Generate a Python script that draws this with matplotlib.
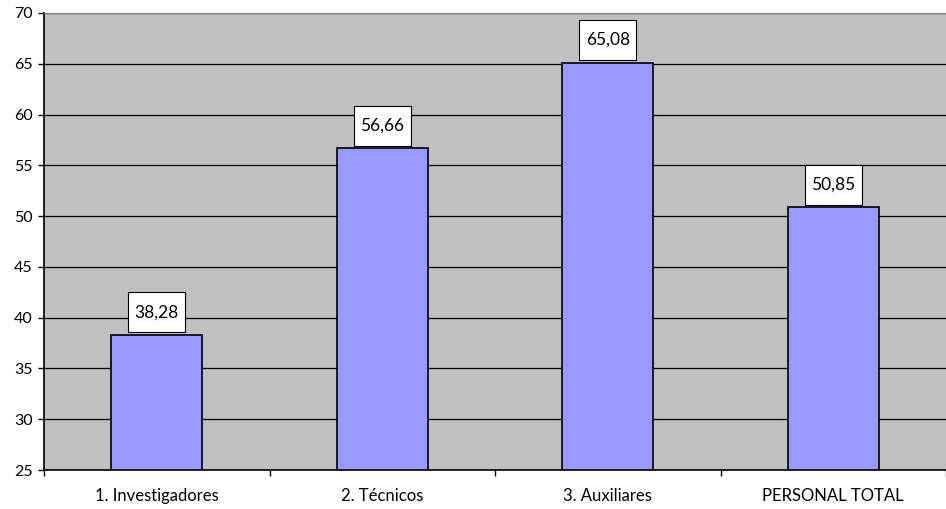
import numpy as np
import matplotlib.pyplot as plt
from matplotlib.path import Path

categories = ['1. Investigadores', '2. Técnicos', '3. Auxiliares', 'PERSONAL TOTAL']
values = [38.28, 56.66, 65.08, 50.85]
value_labels = ['38,28', '56,66', '65,08', '50,85']
y_ticks = [25, 30, 35, 40, 45, 50, 55, 60, 65, 70]

plt.rcParams['font.family'] = ['Lato', 'DejaVu Sans']


def label_box(x0, y0, width, height, mutation_size):
    # tall box with little side padding, like the Excel data labels
    px = mutation_size * 0.38
    py = (40 - height) / 2
    x0, x1 = x0 - px, x0 + width + px
    y0, y1 = y0 - py, y0 + height + py
    return Path([(x0, y0), (x1, y0), (x1, y1), (x0, y1), (x0, y0)], closed=True)


fig = plt.figure(figsize=(9.46, 5.09), dpi=100)
ax = fig.add_axes([44 / 946, 39 / 509, 902 / 946, 457 / 509])
ax.set_facecolor('#C0C0C0')

x = np.arange(len(categories))
ax.bar(x, [v - 25 for v in values], bottom=25, width=0.405, color='#9999FF',
       edgecolor='black', linewidth=1.2, zorder=3)

for xi, v, lab in zip(x, values, value_labels):
    ax.annotate(lab, (xi, v), xytext=(0, 16.5), textcoords='offset points',
                ha='center', va='center', fontsize=12.5, zorder=5,
                bbox=dict(boxstyle=label_box, fc='white', ec='black', lw=0.8))

ax.set_xlim(-0.5, -0.5 + 902 / 228.5)
ax.set_ylim(25, 70)
ax.set_yticks(y_ticks)
ax.yaxis.grid(True, color='black', linewidth=0.9, zorder=1)
ax.set_axisbelow(True)

ax.set_xticks(x)
ax.set_xticklabels(categories, fontsize=12)
ax.set_xticks(np.arange(-0.5, 4, 1), minor=True)
ax.tick_params(axis='x', which='major', length=0, pad=13)
ax.tick_params(axis='x', which='minor', length=4, width=1)
ax.tick_params(axis='y', length=4, width=1, labelsize=11.5, pad=4)

ax.spines['right'].set_visible(False)
ax.spines['top'].set_color('#808080')
ax.spines['left'].set_linewidth(1.2)
ax.spines['bottom'].set_linewidth(1.2)

plt.savefig('out.png', dpi=100)
